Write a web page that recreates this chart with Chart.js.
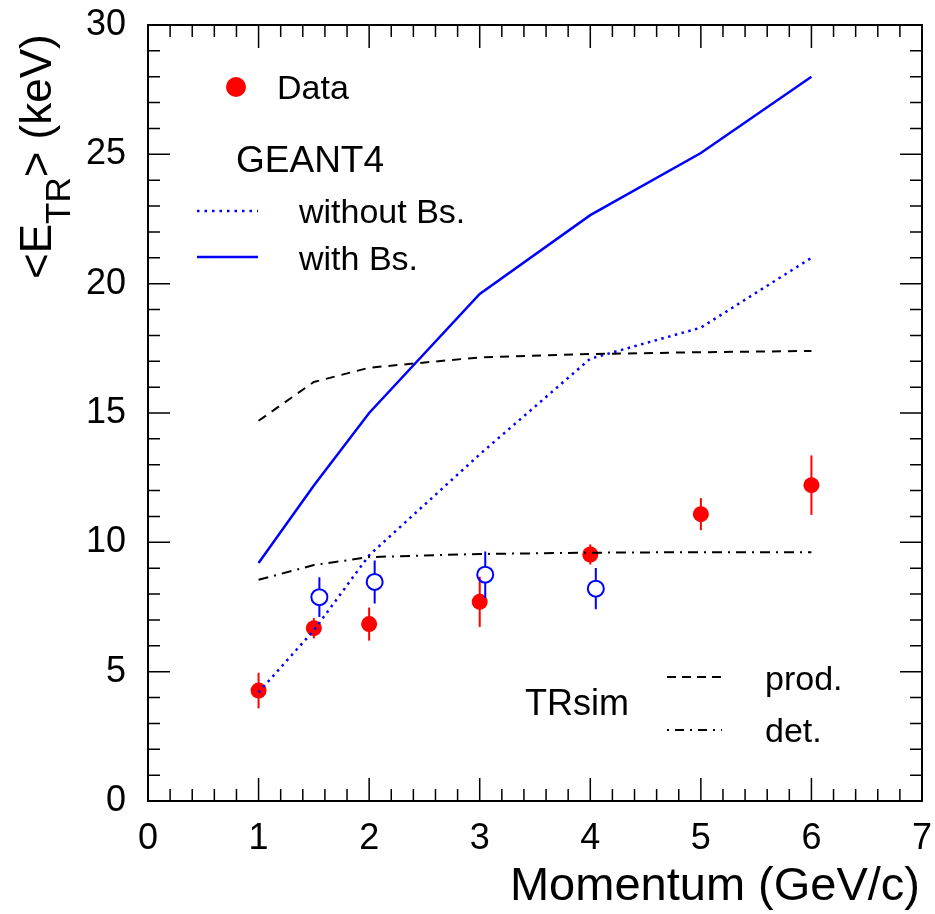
<!DOCTYPE html>
<html>
<head>
<meta charset="utf-8">
<script src="https://cdn.jsdelivr.net/npm/chart.js@4.4.0/dist/chart.umd.min.js"></script>
<style>
  html, body { margin: 0; padding: 0; background: #fff; }
  #c { display: block; }
</style>
</head>
<body>
<canvas id="c" width="935" height="914"></canvas>
<script>
/* ===============================
   DATA
=============================== */
const momentum = [1, 1.5, 2, 3, 4, 5, 6];

// measured points, filled red
const dataY   = [4.27, 6.68, 6.84, 7.70, 9.53, 11.09, 12.21];
const dataErr = [0.69, 0.39, 0.64, 0.97, 0.39, 0.62, 1.15];

// second measurement set, open blue circles (shifted in x)
const openX   = [1.55, 2.05, 3.05, 4.05];
const openY   = [7.88, 8.47, 8.75, 8.21];
const openErr = [0.77, 0.83, 0.90, 0.80];

// GEANT4
const g4WithBs    = [9.2, 12.2, 15.0, 19.6, 22.65, 25.05, 28.0];
const g4WithoutBs = [4.2, 6.6, 9.5, 13.4, 17.1, 18.3, 21.0];

// TRsim
const trProd = [14.7, 16.2, 16.75, 17.15, 17.28, 17.35, 17.4];
const trDet  = [8.55, 9.12, 9.43, 9.55, 9.6, 9.62, 9.62];

const xTicks = [0, 1, 2, 3, 4, 5, 6, 7];
const yTicks = [0, 5, 10, 15, 20, 25, 30];

/* ===============================
   HELPERS
=============================== */
const FONT = '"Liberation Sans", Arial, Helvetica, sans-serif';
const RED = '#ff0000';
const BLUE = '#0000ff';
const pts = (xs, ys) => xs.map((x, i) => ({ x, y: ys[i] }));

/* ===============================
   PLUGIN: frame, inward ticks, error bars, titles, legend
=============================== */
const rootStyle = {
  id: 'rootStyle',
  beforeDatasetsDraw(chart) {
    const { ctx, scales: { x, y } } = chart;
    // red error bars go behind the markers
    ctx.save();
    ctx.strokeStyle = RED;
    ctx.lineWidth = 2;
    momentum.forEach((m, i) => {
      const px = x.getPixelForValue(m);
      ctx.beginPath();
      ctx.moveTo(px, y.getPixelForValue(dataY[i] - dataErr[i]));
      ctx.lineTo(px, y.getPixelForValue(dataY[i] + dataErr[i]));
      ctx.stroke();
    });
    ctx.restore();
  },
  afterDatasetsDraw(chart) {
    const { ctx, chartArea: a, scales: { x, y } } = chart;
    ctx.save();

    // blue error bars, kept outside the open marker
    const r = 8;
    ctx.strokeStyle = BLUE;
    ctx.lineWidth = 2;
    openX.forEach((m, i) => {
      const px = x.getPixelForValue(m);
      const pc = y.getPixelForValue(openY[i]);
      const top = y.getPixelForValue(openY[i] + openErr[i]);
      const bot = y.getPixelForValue(openY[i] - openErr[i]);
      ctx.beginPath();
      ctx.moveTo(px, top); ctx.lineTo(px, pc - r);
      ctx.moveTo(px, pc + r); ctx.lineTo(px, bot);
      ctx.stroke();
    });

    // frame
    ctx.strokeStyle = '#000';
    ctx.lineWidth = 2;
    ctx.strokeRect(a.left, a.top, a.right - a.left, a.bottom - a.top);

    // inward ticks on all four sides
    ctx.lineWidth = 1.5;
    ctx.beginPath();
    for (let k = 0; k <= 35; k++) {
      const v = k * 0.2;
      const px = x.getPixelForValue(v);
      const len = k % 5 === 0 ? 23 : 12;
      ctx.moveTo(px, a.bottom); ctx.lineTo(px, a.bottom - len);
      ctx.moveTo(px, a.top); ctx.lineTo(px, a.top + len);
    }
    for (let v = 0; v <= 30; v++) {
      const py = y.getPixelForValue(v);
      const len = v % 5 === 0 ? 22 : 12;
      ctx.moveTo(a.left, py); ctx.lineTo(a.left + len, py);
      ctx.moveTo(a.right, py); ctx.lineTo(a.right - len, py);
    }
    ctx.stroke();

    ctx.fillStyle = '#000';
    ctx.textBaseline = 'alphabetic';

    // x title
    ctx.font = `47px ${FONT}`;
    ctx.textAlign = 'right';
    ctx.fillText('Momentum (GeV/c)', 920, 900);

    // y title, rotated, with subscript
    ctx.save();
    ctx.translate(51, 279);
    ctx.rotate(-Math.PI / 2);
    ctx.textAlign = 'left';
    ctx.font = `44px ${FONT}`;
    ctx.fillText('<E', 0, 0);
    let off = ctx.measureText('<E').width;
    ctx.font = `35px ${FONT}`;
    ctx.fillText('TR', off, 19);
    off += ctx.measureText('TR').width;
    ctx.font = `44px ${FONT}`;
    ctx.fillText('> (keV)', off, 0);
    ctx.restore();

    // legend: Data / GEANT4
    ctx.textAlign = 'left';
    ctx.fillStyle = RED;
    ctx.beginPath();
    ctx.arc(236, 87, 10, 0, Math.PI * 2);
    ctx.fill();
    ctx.fillStyle = '#000';
    ctx.font = `34px ${FONT}`;
    ctx.fillText('Data', 277, 99);
    ctx.font = `37px ${FONT}`;
    ctx.fillText('GEANT4', 236, 172);
    ctx.font = `34px ${FONT}`;
    ctx.fillText('without Bs.', 299, 223);
    ctx.fillText('with Bs.', 299, 270);

    const sample = (x0, x1, yy, color, dash, lw) => {
      ctx.save();
      ctx.strokeStyle = color;
      ctx.lineWidth = lw;
      ctx.setLineDash(dash);
      ctx.beginPath();
      ctx.moveTo(x0, yy); ctx.lineTo(x1, yy);
      ctx.stroke();
      ctx.restore();
    };
    sample(197, 258, 211, BLUE, [2.5, 5], 2.5);
    sample(197, 258, 257, BLUE, [], 2.5);

    // legend: TRsim
    ctx.font = `36px ${FONT}`;
    ctx.fillText('TRsim', 525, 715);
    ctx.font = `34px ${FONT}`;
    ctx.fillText('prod.', 765, 690);
    ctx.fillText('det.', 765, 742);
    sample(667, 722, 677, '#000', [9, 6], 2);
    sample(667, 722, 730, '#000', [2, 6, 9, 6], 2);

    ctx.restore();
  }
};

/* ===============================
   CHART
=============================== */
const lineDs = (label, ys, color, dash, width) => ({
  label,
  data: pts(momentum, ys),
  showLine: true,
  borderColor: color,
  borderWidth: width,
  borderDash: dash,
  pointRadius: 0,
  fill: false,
  tension: 0
});

new Chart(document.getElementById('c'), {
  type: 'scatter',
  data: {
    datasets: [
      lineDs('prod.', trProd, '#000', [9, 7], 2),
      lineDs('det.', trDet, '#000', [10, 6, 2, 6], 2),
      lineDs('without Bs.', g4WithoutBs, BLUE, [2.5, 4.5], 2.5),
      lineDs('with Bs.', g4WithBs, BLUE, [], 2.5),
      {
        label: 'Data',
        data: pts(momentum, dataY),
        pointRadius: 8,
        pointBackgroundColor: RED,
        pointBorderColor: RED,
        pointBorderWidth: 0,
        showLine: false
      },
      {
        label: 'Data 2',
        data: pts(openX, openY),
        pointRadius: 8,
        pointBackgroundColor: 'rgba(0,0,0,0)',
        pointBorderColor: BLUE,
        pointBorderWidth: 2,
        showLine: false
      }
    ]
  },
  options: {
    responsive: false,
    animation: false,
    layout: { padding: { top: 25, right: 13, left: 0, bottom: 0 } },
    plugins: { legend: { display: false }, tooltip: { enabled: false } },
    scales: {
      x: {
        type: 'linear',
        min: 0, max: 7,
        afterBuildTicks: s => { s.ticks = xTicks.map(v => ({ value: v })); },
        afterFit: s => { s.height = 113; s.paddingLeft = 0; s.paddingRight = 0; },
        grid: { display: false },
        border: { display: false },
        ticks: { color: '#000', font: { family: FONT, size: 36 }, padding: 8, maxRotation: 0, autoSkip: false }
      },
      y: {
        type: 'linear',
        min: 0, max: 30,
        afterBuildTicks: s => { s.ticks = yTicks.map(v => ({ value: v })); },
        afterFit: s => { s.width = 148; s.paddingTop = 0; s.paddingBottom = 0; },
        grid: { display: false },
        border: { display: false },
        ticks: { color: '#000', font: { family: FONT, size: 36 }, padding: 14, autoSkip: false }
      }
    }
  },
  plugins: [rootStyle]
});
</script>
</body>
</html>
